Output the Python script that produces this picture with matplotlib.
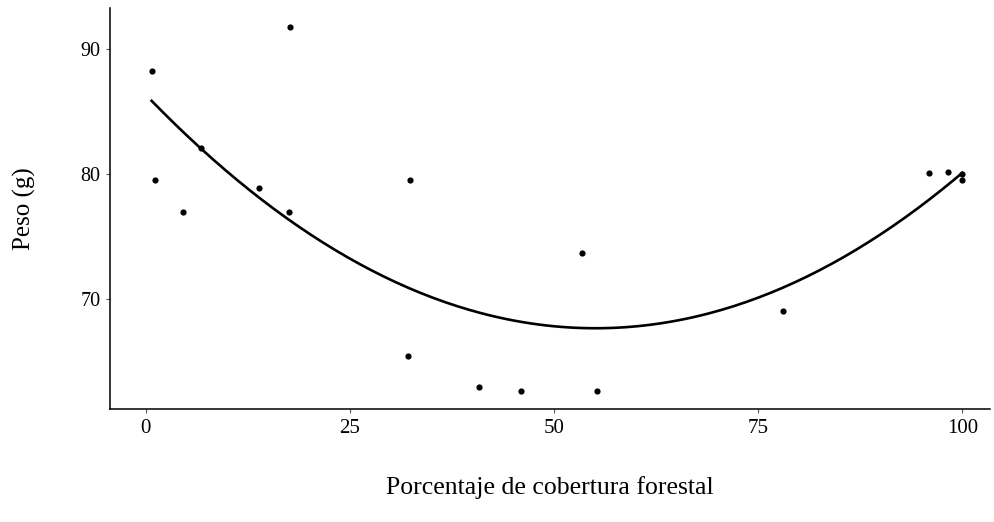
import matplotlib.pyplot as plt
import numpy as np

# forest cover (%) vs body weight (g)
cobertura = [0.7, 1.1, 4.5, 6.7, 13.8, 17.5, 17.6, 32.3, 32.1, 40.8,
             46.0, 53.4, 55.3, 78.0, 95.9, 98.2, 100.0, 100.0]
peso = [88.3, 79.5, 77.0, 82.1, 78.9, 77.0, 91.8, 79.5, 65.4, 62.9,
        62.6, 73.7, 62.6, 69.0, 80.1, 80.2, 80.0, 79.5]

x_ticks = [0, 25, 50, 75, 100]
y_ticks = [70, 80, 90]

plt.rcParams['font.family'] = ['Liberation Serif', 'DejaVu Serif']

fig = plt.figure(figsize=(9.94, 5.22), dpi=100)
ax = fig.add_axes([110 / 994, (522 - 409.3) / 522, 880 / 994, 401 / 522])

# quadratic fit, like geom_smooth(method="lm", formula=y ~ poly(x, 2))
coef = np.polyfit(cobertura, peso, 2)
xs = np.linspace(min(cobertura), max(cobertura), 200)
ax.plot(xs, np.polyval(coef, xs), color='black', linewidth=1.9)

ax.scatter(cobertura, peso, s=20, color='black', zorder=3, linewidths=0)

ax.set_xlim(-4.4, 103.4)
ax.set_ylim(61.15, 93.3)
ax.set_xticks(x_ticks)
ax.set_yticks(y_ticks)
ax.tick_params(length=3, color='#555555', width=0.8)
ax.tick_params(axis='x', labelsize=15, pad=4)
ax.tick_params(axis='y', labelsize=14.5, pad=4)

ax.spines['top'].set_visible(False)
ax.spines['right'].set_visible(False)
ax.spines['left'].set_linewidth(1.1)
ax.spines['bottom'].set_linewidth(1.1)

ax.set_xlabel('Porcentaje de cobertura forestal', fontsize=18.5, labelpad=27)
ax.set_ylabel('Peso (g)', fontsize=18, labelpad=32)

fig.savefig('out.png', dpi=100)
